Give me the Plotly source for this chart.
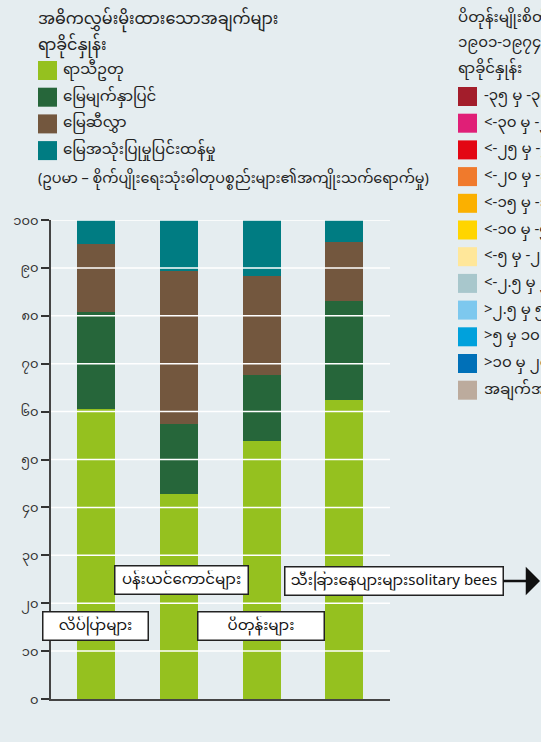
import plotly.graph_objects as go

# ---------------- data ----------------
categories = ["လိပ်ပြာများ", "ပန်းယင်ကောင်များ", "ပိတုန်းများ", "သီးခြားနေပျားများsolitary bees"]
series_names = ["ရာသီဥတု", "မြေမျက်နှာပြင်", "မြေဆီလွှာ", "မြေအသုံးပြုမှုပြင်းထန်မှု"]
climate = [60.5, 42.8, 53.9, 62.4]
land_cover = [20.3, 14.6, 13.7, 20.7]
soil = [14.2, 32.0, 20.8, 12.4]
land_use = [5.0, 10.6, 11.6, 4.5]
series_colors = ["#95c11f", "#26663a", "#73573e", "#007c82"]

tick_vals = [0, 10, 20, 30, 40, 50, 60, 70, 80, 90, 100]
tick_text = ["၀", "၁၀", "၂၀", "၃၀", "၄၀", "၅၀", "၆၀", "၇၀", "၈၀", "၉၀", "၁၀၀"]

left_title = ["အဓိကလွှမ်းမိုးထားသောအချက်များ", "ရာခိုင်နှုန်း"]
left_note = "(ဥပမာ – စိုက်ပျိုးရေးသုံးဓါတုပစ္စည်းများ၏အကျိုးသက်ရောက်မှု)"

right_title = ["ပိတုန်းမျိုးစိတ်များ ပြောင်းလဲမှု", "၁၉၀၁-၁၉၇၄ နှင့် ၂၀၀၀-၂၀၁၄", "ရာခိုင်နှုန်း"]
right_labels = ["-၃၅ မှ -၃၀", "<-၃၀ မှ -၂၅", "<-၂၅ မှ -၂၀", "<-၂၀ မှ -၁၅", "<-၁၅ မှ -၁၀",
                "<-၁၀ မှ -၅", "<-၅ မှ -၂.၅", "<-၂.၅ မှ ၂.၅", ">၂.၅ မှ ၅", ">၅ မှ ၁၀",
                ">၁၀ မှ ၂၀", "အချက်အလက်မရှိ"]
right_colors = ["#a31d2b", "#e01f77", "#e30613", "#f07a2c", "#fbb000", "#ffd500",
                "#ffe79a", "#a8c7cc", "#7dc8ee", "#00a1dc", "#0070b8", "#bcab9d"]

# ---------------- layout constants ----------------
W, H = 541, 742
ML, MR, MT, MB = 51, 151, 220, 43
PW, PH = W - ML - MR, H - MT - MB
FONT = "Noto Sans Myanmar, Padauk, Myanmar Text, Noto Sans, sans-serif"
BG = "#e5edf0"
TXT = "#222222"


def px(x):
    return (x - ML) / PW


def py(y):
    return (H - MB - y) / PH


xs = list(range(len(categories)))
fig = go.Figure()
for name, vals, col in zip(series_names, [climate, land_cover, soil, land_use], series_colors):
    fig.add_trace(go.Bar(x=xs, y=vals, name=name, marker=dict(color=col, line=dict(width=0)),
                         width=0.458, showlegend=False, hoverinfo="y+name"))

shapes = []
# gridlines drawn above the bars
for v in tick_vals[1:]:
    shapes.append(dict(type="line", xref="paper", yref="y", x0=0, x1=1, y0=v, y1=v,
                       line=dict(color="white", width=1.5), layer="above"))

annotations = []
# left legend
for i, t in enumerate(left_title):
    annotations.append(dict(xref="paper", yref="paper", x=px(36), y=py(20 + 26 * i), text=t,
                            showarrow=False, xanchor="left", yanchor="middle",
                            font=dict(size=16, color=TXT, family=FONT)))
for i, (name, col) in enumerate(zip(series_names, series_colors)):
    top = 61 + 26.7 * i
    shapes.append(dict(type="rect", xref="paper", yref="paper", x0=px(38), x1=px(57),
                       y0=py(top + 19), y1=py(top), fillcolor=col, line=dict(width=0)))
    annotations.append(dict(xref="paper", yref="paper", x=px(61), y=py(top + 9.5), text=name,
                            showarrow=False, xanchor="left", yanchor="middle",
                            font=dict(size=15, color=TXT, family=FONT)))
annotations.append(dict(xref="paper", yref="paper", x=px(36), y=py(179), text=left_note,
                        showarrow=False, xanchor="left", yanchor="middle",
                        font=dict(size=14.4, color=TXT, family=FONT)))

# right legend
for i, t in enumerate(right_title):
    annotations.append(dict(xref="paper", yref="paper", x=px(456), y=py(18 + 25.5 * i), text=t,
                            showarrow=False, xanchor="left", yanchor="middle",
                            font=dict(size=15, color=TXT, family=FONT)))
for i, (lab, col) in enumerate(zip(right_labels, right_colors)):
    top = 87 + 26.7 * i
    shapes.append(dict(type="rect", xref="paper", yref="paper", x0=px(458), x1=px(477),
                       y0=py(top + 19), y1=py(top), fillcolor=col, line=dict(width=0)))
    annotations.append(dict(xref="paper", yref="paper", x=px(482), y=py(top + 9.5), text=lab,
                            showarrow=False, xanchor="left", yanchor="middle",
                            font=dict(size=15, color=TXT, family=FONT)))

# category boxes
box_font = dict(size=15, color="#111111", family=FONT)
box_specs = [(0, 15.2, 107, 0), (1, 24.8, 135, 3), (2, 15.2, 128, -1)]
for (ci, yv, wbox, xs_) in box_specs:
    annotations.append(dict(xref="x", yref="y", x=ci, y=yv, text=categories[ci], showarrow=False,
                            xanchor="center", yanchor="middle", xshift=xs_,
                            bgcolor="white", bordercolor="#222222", borderwidth=1.5, borderpad=4,
                            width=wbox - 11, height=19, font=box_font))
annotations.append(dict(xref="paper", yref="paper", x=px(544), y=py(581),
                        ax=-(544 - 394), ay=0, axref="pixel", ayref="pixel",
                        text=categories[3], showarrow=True, arrowhead=1, arrowsize=1.9,
                        arrowwidth=2.5, arrowcolor="#111111",
                        bgcolor="white", bordercolor="#222222", borderwidth=1.5, borderpad=4,
                        width=220 - 11, height=19, font=box_font))

fig.update_layout(
    width=W, height=H,
    margin=dict(l=ML, r=MR, t=MT, b=MB, autoexpand=False),
    paper_bgcolor=BG, plot_bgcolor=BG,
    barmode="stack", bargap=0,
    showlegend=False,
    shapes=shapes, annotations=annotations,
    font=dict(family=FONT, color=TXT),
    xaxis=dict(range=[-0.54, 3.55], showgrid=False, zeroline=False, showticklabels=False,
               ticks="", showline=True, linecolor="#444444", linewidth=2, fixedrange=True),
    yaxis=dict(range=[0, 100], tickvals=tick_vals, ticktext=tick_text, showgrid=False,
               zeroline=False, showline=True, linecolor="#444444", linewidth=2,
               ticks="outside", ticklen=8, tickwidth=1.5, tickcolor="#333333",
               tickfont=dict(size=13, color="#333333", family=FONT), fixedrange=True),
)

fig.write_html("out.html", config={"displayModeBar": False},
               post_script="document.body.style.margin='0';document.body.style.overflow='hidden';")
